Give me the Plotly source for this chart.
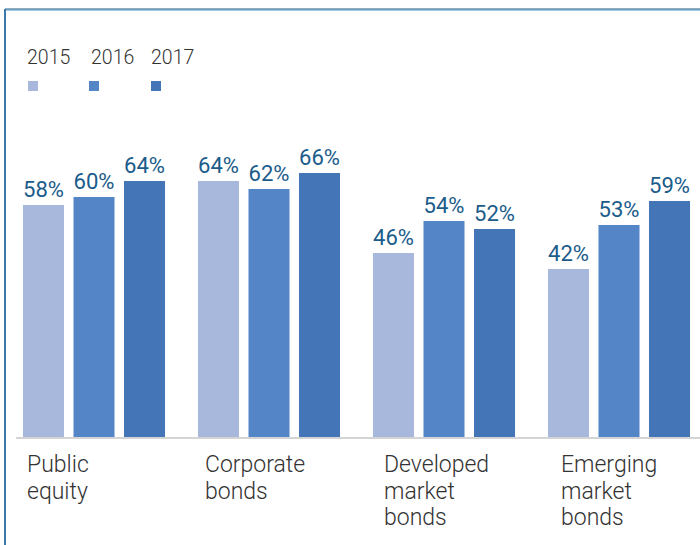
import plotly.graph_objects as go

categories = [["Public", "equity"], ["Corporate", "bonds"],
              ["Developed", "market", "bonds"], ["Emerging", "market", "bonds"]]
years = ["2015", "2016", "2017"]
values_2015 = [58, 64, 46, 42]
values_2016 = [60, 62, 54, 53]
values_2017 = [64, 66, 52, 59]
series = [values_2015, values_2016, values_2017]
colors = ["#a8b8dd", "#5485c6", "#4475b6"]

W, H = 700, 545
ML, MR, MT, MB = 16, 0, 137, 108
PW, PH = W - ML - MR, H - MT - MB

def px_x(px):
    return (px - ML) / PW

def px_y(py):
    return (H - MB - py) / PH

FONT = "Roboto"
label_color = "#1b5c8b"
text_color = "#333333"

fig = go.Figure()
idx = list(range(len(categories)))
for yr, vals, col in zip(years, series, colors):
    fig.add_trace(go.Bar(
        x=idx, y=vals, name=yr, marker=dict(color=col, line=dict(width=0)),
        text=[f"{v}%" for v in vals], textposition="outside",
        textfont=dict(family=FONT, size=24.5, color=label_color),
        cliponaxis=False, showlegend=False,
    ))

# category labels, left aligned, one annotation per line
xshifts = [-69, -66, -62, -60.5]
LINE = 26.5
annotations = []
for i, (lines, xs) in enumerate(zip(categories, xshifts)):
    for k, line in enumerate(lines):
        annotations.append(dict(
            x=i, y=0, xref="x", yref="y", text=line, showarrow=False,
            xanchor="left", yanchor="top", align="left", xshift=xs,
            yshift=-12 - k * LINE,
            font=dict(family=FONT, size=23, color=text_color, weight=300),
        ))

# custom legend: text above square swatch
leg_text_x = [27, 91, 151]
leg_sq_x = [28, 89, 151]
shapes = []
for yr, col, tx, sx in zip(years, colors, leg_text_x, leg_sq_x):
    annotations.append(dict(
        x=px_x(tx), y=px_y(58), xref="paper", yref="paper", text=yr, showarrow=False,
        xanchor="left", yanchor="middle", xshift=-2,
        font=dict(family=FONT, size=19.5, color=text_color, weight=300),
    ))
    shapes.append(dict(type="rect", xref="paper", yref="paper",
                       x0=px_x(sx), x1=px_x(sx + 10), y0=px_y(91), y1=px_y(81),
                       fillcolor=col, line=dict(width=0)))

# frame lines (top and left)
shapes.append(dict(type="line", xref="paper", yref="paper",
                   x0=px_x(5), x1=px_x(700), y0=px_y(9), y1=px_y(9),
                   line=dict(color="#1f5a86", width=1)))
shapes.append(dict(type="line", xref="paper", yref="paper",
                   x0=px_x(5), x1=px_x(700), y0=px_y(10), y1=px_y(10),
                   line=dict(color="#4f8fbf", width=1)))
shapes.append(dict(type="line", xref="paper", yref="paper",
                   x0=px_x(5), x1=px_x(5), y0=px_y(9), y1=px_y(545),
                   line=dict(color="#3b7aa8", width=2)))

fig.update_layout(
    width=W, height=H,
    margin=dict(l=ML, r=MR, t=MT, b=MB, pad=0),
    paper_bgcolor="white", plot_bgcolor="white",
    barmode="group", bargap=0.134, bargroupgap=0.188,
    xaxis=dict(range=[-(94 - ML) / 175, -(94 - ML) / 175 + PW / 175],
               showticklabels=False, ticks="", showgrid=False, zeroline=False,
               showline=True, linecolor="#d4d4d4", linewidth=2, fixedrange=True),
    yaxis=dict(range=[0, PH / 4], showticklabels=False, showgrid=False,
               zeroline=False, showline=False, fixedrange=True),
    annotations=annotations, shapes=shapes,
    uniformtext=dict(mode=False),
)

fig.write_html("out.html", config={"displayModeBar": False},
               post_script="document.body.style.margin='0';")
